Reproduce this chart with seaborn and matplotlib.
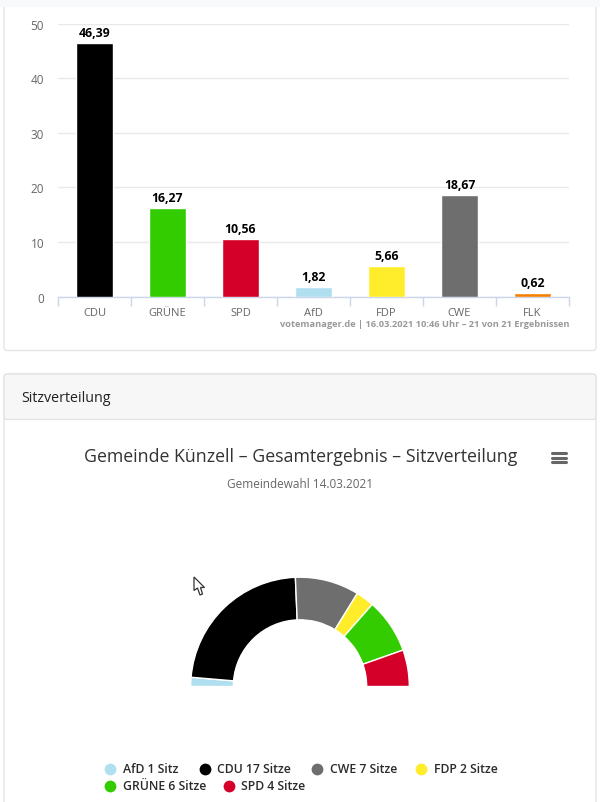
import numpy as np
import pandas as pd
import matplotlib
matplotlib.use("Agg")
import matplotlib.pyplot as plt
from matplotlib.patches import FancyBboxPatch, Rectangle, Polygon
import seaborn as sns

# Daten
parties = ["CDU", "GRÜNE", "SPD", "AfD", "FDP", "CWE", "FLK"]
percent = [46.39, 16.27, 10.56, 1.82, 5.66, 18.67, 0.62]
bar_colors = ["#000000", "#33cc00", "#d5002a", "#b0dfef", "#ffed2b", "#6e6e6e", "#f57f00"]
y_ticks = [0, 10, 20, 30, 40, 50]

seat_parties = ["AfD", "CDU", "CWE", "FDP", "GRÜNE", "SPD"]
seats = [1, 17, 7, 2, 6, 4]
seat_labels = ["AfD 1 Sitz", "CDU 17 Sitze", "CWE 7 Sitze", "FDP 2 Sitze", "GRÜNE 6 Sitze", "SPD 4 Sitze"]
seat_colors = ["#b0dfef", "#000000", "#6e6e6e", "#ffed2b", "#33cc00", "#d5002a"]

credit = "votemanager.de | 16.03.2021 10:46 Uhr – 21 von 21 Ergebnissen"
card_title = "Sitzverteilung"
chart_title = "Gemeinde Künzell – Gesamtergebnis – Sitzverteilung"
chart_subtitle = "Gemeindewahl 14.03.2021"

W, H = 600, 803
sns.set_theme(style="white")
plt.rcParams["font.family"] = ["Open Sans", "DejaVu Sans"]

fig = plt.figure(figsize=(W / 100, H / 100), dpi=100, facecolor="white")


def px_axes(left, top, right, bottom, **kw):
    """Achsen in Pixelkoordinaten des Bildes."""
    return fig.add_axes([left / W, 1 - bottom / H, (right - left) / W, (bottom - top) / H], **kw)


# Hintergrund mit Karten, in Pixeln
bg = px_axes(0, 0, W, H)
bg.set_xlim(0, W)
bg.set_ylim(H, 0)
bg.axis("off")
bg.add_patch(FancyBboxPatch((4, -20), 592, 371.5, boxstyle="round,pad=0,rounding_size=3",
                            fc="white", ec="#e2e2e2", lw=0.9))
bg.add_patch(Rectangle((0, 0), W, 8, fc="#f8f9fa", ec="none"))
bg.add_patch(FancyBboxPatch((4, 375), 592, 450, boxstyle="round,pad=0,rounding_size=3",
                            fc="white", ec="#e2e2e2", lw=0.9))
bg.add_patch(FancyBboxPatch((4, 375), 592, 45.5, boxstyle="round,pad=0,rounding_size=3",
                            fc="#f7f7f7", ec="#e2e2e2", lw=0.9))

bg.text(21.5, 398.5, card_title, fontsize=10.3, color="#222222", va="center", ha="left")
bg.text(300.5, 457, chart_title, fontsize=12.75, color="#333333", va="center", ha="center")
bg.text(300, 485, chart_subtitle, fontsize=8.5, color="#666666", va="center", ha="center")
bg.text(569, 324.5, credit, fontsize=6.7, color="#999999", va="center", ha="right", fontweight="bold")

# Menue-Symbol
for y in [454, 458.5, 463]:
    bg.plot([551.5, 565.5], [y, y], color="#666666", lw=2.2, solid_capstyle="round")

# Legende
legend_marker_x = [110.3, 204.7, 316.7, 421.3, 110.3, 228.7]
legend_text_x = [122.7, 217.3, 330, 434, 122.7, 241.3]
legend_y = [769.5, 769.5, 769.5, 769.5, 786.5, 786.5]
for label, color, mx, tx, ly in zip(seat_labels, seat_colors, legend_marker_x, legend_text_x, legend_y):
    bg.scatter([mx], [ly], s=72, color=color, linewidths=0)
    bg.text(tx, ly + 0.5, label, fontsize=8.8, fontweight="semibold", color="#2b2b2b", va="center", ha="left")

# Mauszeiger
cursor = [(194, 578), (194, 591.5), (197.5, 589), (200, 596), (202.5, 595), (200.5, 588.5), (204.5, 588.5)]
bg.add_patch(Polygon(cursor, closed=True, fc="white", ec="#333333", lw=0.9, zorder=5))

# Balkendiagramm
ax = px_axes(58, 24.5, 569, 297.8)
ax.patch.set_alpha(0)
df = pd.DataFrame({"Partei": parties, "Prozent": percent})
sns.barplot(data=df, x="Partei", y="Prozent", hue="Partei", palette=bar_colors,
            width=0.5, legend=False, saturation=1, ax=ax, zorder=3)
ax.set_xlim(-0.5, 6.5)
ax.set_ylim(0, 50)
ax.set_yticks(y_ticks)
ax.set_xlabel("")
ax.set_ylabel("")
ax.grid(axis="y", color="#e9e9e9", lw=1, zorder=0)
ax.set_axisbelow(True)
for side in ["top", "left", "right"]:
    ax.spines[side].set_visible(False)
ax.spines["bottom"].set_color("#ccd6eb")
ax.spines["bottom"].set_linewidth(1)
ax.set_xticks(np.arange(-0.5, 7), minor=True)
ax.tick_params(axis="x", which="minor", length=6.5, width=1, color="#ccd6eb", bottom=True)
ax.tick_params(axis="x", which="major", length=0, pad=7, labelsize=8, labelcolor="#666666")
ax.tick_params(axis="y", length=0, pad=10, labelsize=8.5, labelcolor="#666666")
for container, value in zip(ax.containers, percent):
    ax.bar_label(container, labels=[f"{value:.2f}".replace(".", ",")], padding=3,
                 fontsize=8.8, fontweight="bold", color="black")

# Halbkreis Sitzverteilung
R = 109.3
cx, cy = 300, 687.5
pie_ax = px_axes(cx - R, cy - R, cx + R, cy + R)
pie_ax.patch.set_alpha(0)
wedges, _ = pie_ax.pie(seats + [sum(seats)], colors=seat_colors + ["white"], radius=1, startangle=180,
                       counterclock=False, wedgeprops={"width": 0.39, "edgecolor": "white", "linewidth": 1})
wedges[-1].set_visible(False)
pie_ax.set_xlim(-1, 1)
pie_ax.set_ylim(-1, 1)

fig.savefig("out.png", dpi=100)
